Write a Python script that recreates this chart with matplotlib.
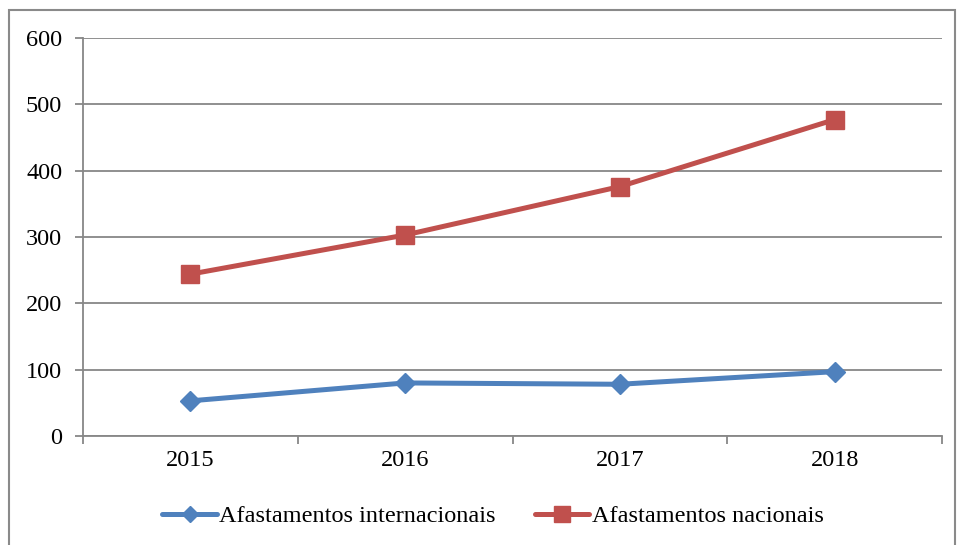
import matplotlib
matplotlib.use("Agg")
import matplotlib.pyplot as plt
from matplotlib.patches import Rectangle

years = ["2015", "2016", "2017", "2018"]
internacionais = [53, 80, 78, 97]
nacionais = [244, 303, 376, 477]
yticks = [0, 100, 200, 300, 400, 500, 600]

plt.rcParams['font.family'] = ['Liberation Serif', 'DejaVu Serif']

W, H = 958, 545
FS = 17.5
fig = plt.figure(figsize=(W / 100, H / 100), dpi=100)
ax = fig.add_axes([83 / W, 1 - 436 / H, (942 - 83) / W, (436 - 38) / H])

x = list(range(len(years)))
blue = "#4F81BD"
red = "#C0504D"
grid = "#878787"

ax.plot(x, internacionais, color=blue, lw=3.6, marker="D", ms=10, mec=blue, mfc=blue,
        label="Afastamentos internacionais", solid_capstyle="round")
ax.plot(x, nacionais, color=red, lw=3.6, marker="s", ms=13, mec=red, mfc=red,
        label="Afastamentos nacionais", solid_capstyle="round")

ax.set_xlim(-0.5, len(years) - 0.5)
ax.set_ylim(0, 600)
ax.set_yticks(yticks)
ax.set_yticklabels([str(v) for v in yticks], fontsize=FS)
ax.yaxis.grid(True, color=grid, lw=1.3)
ax.set_axisbelow(True)

ax.set_xticks([i - 0.5 for i in range(len(years) + 1)])
ax.set_xticklabels([])
ax.set_xticks(x, minor=True)
ax.set_xticklabels(years, minor=True, fontsize=FS)
ax.tick_params(axis="x", which="minor", length=0, pad=10)
ax.tick_params(axis="x", which="major", length=6, color=grid, width=1.3)
ax.tick_params(axis="y", length=6, color=grid, width=1.3, pad=9)

for s in ["top", "right"]:
    ax.spines[s].set_visible(False)
for s in ["left", "bottom"]:
    ax.spines[s].set_color(grid)
    ax.spines[s].set_linewidth(1.3)

leg = fig.legend(loc="center", bbox_to_anchor=(0.5 + 14 / W, 1 - 516 / H), ncol=2, frameon=False,
                 fontsize=FS, handlelength=2.25, handletextpad=0.1, columnspacing=1.6,
                 markerscale=0.85)

fig.patches.append(Rectangle((9 / W, -0.01), (955 - 9) / W, 1 - 10 / H + 0.01,
                             transform=fig.transFigure, fill=False, ec="#8a8a8a", lw=1.5))

fig.savefig("out.png", dpi=100)
